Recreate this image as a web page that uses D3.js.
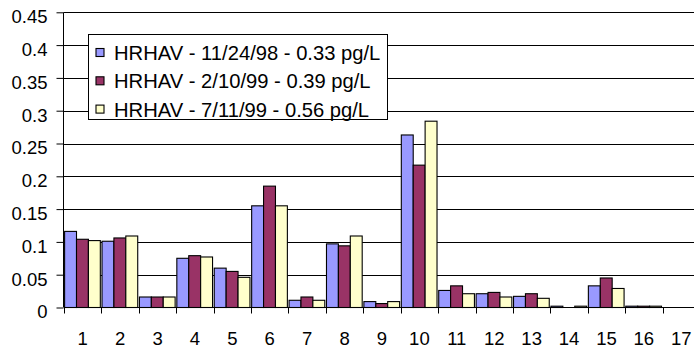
<!DOCTYPE html>
<html>
<head>
<meta charset="utf-8">
<script src="https://cdn.jsdelivr.net/npm/d3@7"></script>
<style>
  html, body { margin: 0; padding: 0; background: #fff; }
  svg { display: block; font-family: "Liberation Sans", Arial, sans-serif; }
</style>
</head>
<body>
<svg id="chart" width="694" height="349"></svg>
<script>
const categories = ["1","2","3","4","5","6","7","8","9","10","11","12","13","14","15","16","17"];
const seriesNames = [
  "HRHAV - 11/24/98 - 0.33 pg/L",
  "HRHAV - 2/10/99 - 0.39 pg/L",
  "HRHAV - 7/11/99 - 0.56 pg/L"
];
const seriesNov98 = [0.116, 0.101, 0.016, 0.075, 0.060, 0.155, 0.011, 0.097, 0.009, 0.263, 0.026, 0.021, 0.017, 0.002, 0.033, 0.002, 0];
const seriesFeb99 = [0.104, 0.106, 0.016, 0.079, 0.055, 0.185, 0.016, 0.094, 0.006, 0.217, 0.033, 0.023, 0.021, 0, 0.045, 0.002, 0];
const seriesJul99 = [0.102, 0.109, 0.016, 0.077, 0.046, 0.155, 0.011, 0.109, 0.009, 0.284, 0.021, 0.016, 0.014, 0.002, 0.029, 0.002, 0];
const yTicks = [0, 0.05, 0.1, 0.15, 0.2, 0.25, 0.3, 0.35, 0.4, 0.45];
const colors = ["#9999FF", "#993366", "#FFFFCC"];

(function () {
const allSeries = [seriesNov98, seriesFeb99, seriesJul99];
const svg = d3.select("#chart");
const W = 694;
const plotLeft = 64, plotRight = 700, plotBottom = 307.5, plotTop = 12.3;

const x = d3.scaleBand().domain(categories).range([plotLeft, plotRight]).paddingInner(0).paddingOuter(0);
const bw = x.bandwidth();
const x1 = d3.scaleBand().domain(d3.range(3)).range([0.6, bw - 1.1]).padding(0);
const y = d3.scaleLinear().domain([0, 0.45]).range([plotBottom, plotTop]);

// gridlines
svg.append("g").selectAll("line").data(yTicks.filter(d => d > 0)).join("line")
  .attr("x1", plotLeft).attr("x2", W)
  .attr("y1", d => Math.round(y(d)) + 0.5).attr("y2", d => Math.round(y(d)) + 0.5)
  .attr("stroke", "#000").attr("stroke-width", 1);

// bars
const rows = [];
categories.forEach((c, i) => {
  allSeries.forEach((s, k) => { if (s[i] > 0) rows.push({c, k, v: s[i]}); });
});
svg.append("g").selectAll("rect").data(rows).join("rect")
  .attr("x", d => x(d.c) + x1(d.k))
  .attr("width", x1.bandwidth())
  .attr("y", d => y(d.v))
  .attr("height", d => plotBottom - y(d.v))
  .attr("fill", d => colors[d.k])
  .attr("stroke", "#000").attr("stroke-width", 1.1);

// y axis
const yAxis = d3.axisLeft(y).tickValues(yTicks).tickSize(7).tickSizeOuter(0)
  .tickFormat(d => d === 0 ? "0" : String(+d.toFixed(2)));
const gy = svg.append("g").attr("transform", `translate(${plotLeft - 0.5},0)`).call(yAxis);
gy.select(".domain").attr("stroke", "#000").attr("d", `M0,${plotTop}V${plotBottom}`);
gy.selectAll(".tick line").attr("stroke", "#000");
gy.selectAll(".tick text").attr("x", -16).attr("y", 4).attr("dy", "0.35em")
  .attr("font-size", 18.5).attr("fill", "#000").attr("font-family", "Liberation Sans, Arial, sans-serif");

// x axis
const gx = svg.append("g").attr("transform", `translate(0,${plotBottom})`);
gx.append("line").attr("x1", plotLeft).attr("x2", W).attr("y1", 0).attr("y2", 0).attr("stroke", "#000");
const boundaries = categories.map(c => x(c)).concat([x(categories[categories.length - 1]) + bw]).filter(v => v <= W);
gx.selectAll("line.tk").data(boundaries).join("line").attr("class", "tk")
  .attr("x1", d => Math.round(d) + 0.5).attr("x2", d => Math.round(d) + 0.5)
  .attr("y1", 0).attr("y2", 6).attr("stroke", "#000");
gx.selectAll("text").data(categories).join("text")
  .attr("x", d => x(d) + bw / 2)
  .attr("y", 37.5)
  .attr("text-anchor", "middle")
  .attr("font-size", 18.5)
  .attr("fill", "#000")
  .text(d => d);

// legend
const lg = svg.append("g");
lg.append("rect").attr("x", 88.5).attr("y", 34.5).attr("width", 299).attr("height", 85)
  .attr("fill", "#fff").attr("stroke", "#000").attr("stroke-width", 1);
seriesNames.forEach((name, k) => {
  const cy = 52.5 + k * 28.3;
  lg.append("rect").attr("x", 96).attr("y", cy - 4).attr("width", 8).attr("height", 8)
    .attr("fill", colors[k]).attr("stroke", "#000").attr("stroke-width", 1.1);
  lg.append("text").attr("x", 114).attr("y", cy + 7.5)
    .attr("font-size", 20.2).attr("fill", "#000").text(name);
});
})();
</script>
</body>
</html>
